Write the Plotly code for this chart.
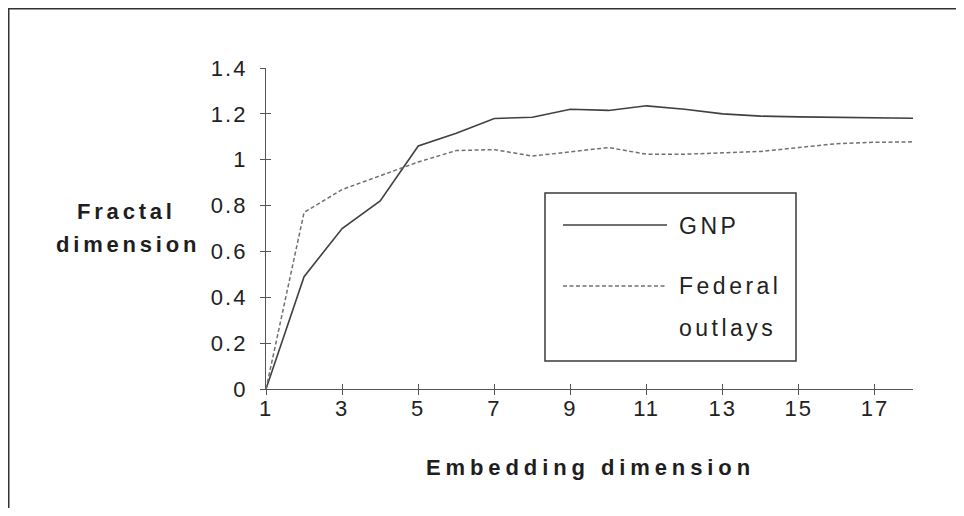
import plotly.graph_objects as go

# ---- data ----
embedding_dim = list(range(1, 19))
gnp = [0.0, 0.49, 0.70, 0.82, 1.06, 1.115, 1.18, 1.185, 1.22, 1.215,
       1.235, 1.22, 1.20, 1.19, 1.187, 1.184, 1.182, 1.181]
federal = [0.0, 0.77, 0.87, 0.93, 0.99, 1.04, 1.044, 1.016, 1.036, 1.053,
           1.024, 1.024, 1.03, 1.036, 1.053, 1.07, 1.076, 1.078]
series_names = ["GNP", "Federal outlays"]
x_tick_vals = [1, 3, 5, 7, 9, 11, 13, 15, 17]
y_tick_vals = [0, 0.2, 0.4, 0.6, 0.8, 1.0, 1.2, 1.4]
y_tick_labels = ["0", "0.2", "0.4", "0.6", "0.8", "1", "1.2", "1.4"]
x_title = "Embedding dimension"
y_title_lines = ["Fractal", "dimension"]

# ---- layout geometry (page coords; page has an 8px body margin) ----
OFF = 8
W, H = 964 - OFF, 516 - 2 * OFF
PLOT_L, PLOT_R, PLOT_T, PLOT_B = 266, 913, 68, 389   # page pixels
L, T = PLOT_L - OFF, PLOT_T - OFF
R, B = W - (PLOT_R - OFF), H - (PLOT_B - OFF)
PW, PH = W - L - R, H - T - B
FONT = "Liberation Sans, Arial, Helvetica, sans-serif"


def px(x):
    return (x - OFF - L) / PW


def py(y):
    return (T + PH - (y - OFF)) / PH


def spaced(t, sp):
    return f'<span style="letter-spacing:{sp}px">{t}</span>'


GNP_COLOR = "#404040"
FED_COLOR = "#707070"
FED_DASH = "4px,2.5px"

fig = go.Figure()
fig.add_trace(go.Scatter(x=embedding_dim, y=gnp, mode="lines", name=series_names[0],
                         line=dict(color=GNP_COLOR, width=1.6)))
fig.add_trace(go.Scatter(x=embedding_dim, y=federal, mode="lines", name=series_names[1],
                         line=dict(color=FED_COLOR, width=1.5, dash=FED_DASH)))
# invisible trace for the overlay axes that draw the inner half of the ticks
fig.add_trace(go.Scatter(x=[None], y=[None], xaxis="x2", yaxis="y2",
                         showlegend=False, hoverinfo="skip"))

axis_common = dict(showgrid=False, zeroline=False, ticklen=5, tickwidth=1.2,
                   tickcolor="#555555")
tick_font = dict(size=22, family=FONT, color="#222222")

fig.update_layout(
    width=W, height=H,
    margin=dict(l=L, r=R, t=T, b=B, pad=0),
    paper_bgcolor="white", plot_bgcolor="white",
    showlegend=False,
    font=dict(family=FONT, color="#222222"),
    xaxis=dict(range=[1, 18], tickvals=x_tick_vals,
               ticktext=[spaced(str(v), 2) for v in x_tick_vals],
               ticks="outside", showline=True, linecolor="#555555", linewidth=1.3,
               tickfont=tick_font, ticklabelstandoff=-6,
               **axis_common),
    yaxis=dict(range=[0, 1.4], tickvals=y_tick_vals,
               ticktext=[spaced(t, 2) for t in y_tick_labels],
               ticks="outside", showline=True, linecolor="#555555", linewidth=1.3,
               tickfont=tick_font, ticklabelstandoff=8,
               **axis_common),
    xaxis2=dict(range=[1, 18], overlaying="x", anchor="y2", side="bottom",
                tickvals=x_tick_vals, ticks="inside", showticklabels=False,
                showline=False, **axis_common),
    yaxis2=dict(range=[0, 1.4], overlaying="y", anchor="x2", side="left",
                tickvals=y_tick_vals, ticks="inside", showticklabels=False,
                showline=False, **axis_common),
)

shapes = []
# outer frame (top and left edges visible)
shapes.append(dict(type="rect", xref="paper", yref="paper",
                   x0=px(8.5), x1=px(1000), y0=py(8.5), y1=py(600),
                   line=dict(color="#333333", width=2), fillcolor="rgba(0,0,0,0)",
                   layer="below"))
# legend box
shapes.append(dict(type="rect", xref="paper", yref="paper",
                   x0=px(545), x1=px(796), y0=py(193), y1=py(361),
                   line=dict(color="#3a3a3a", width=1.5), fillcolor="white",
                   layer="above"))
# legend samples
shapes.append(dict(type="line", xref="paper", yref="paper",
                   x0=px(563), x1=px(667), y0=py(225), y1=py(225),
                   line=dict(color=GNP_COLOR, width=1.6)))
shapes.append(dict(type="line", xref="paper", yref="paper",
                   x0=px(563), x1=px(667), y0=py(286), y1=py(286),
                   line=dict(color=FED_COLOR, width=1.5, dash=FED_DASH)))

annotations = []
fed_words = series_names[1].split(" ")
legend_texts = [(series_names[0], 226), (fed_words[0], 286), (fed_words[1], 328)]
for txt, yy in legend_texts:
    annotations.append(dict(text=spaced(txt, 3.5), xref="paper", yref="paper",
                            x=px(677), y=py(yy), xanchor="left", yanchor="middle",
                            showarrow=False,
                            font=dict(size=23, family=FONT, color="#222222")))
# y title (two lines)
for txt, xx, yy in [(y_title_lines[0], 126, 211), (y_title_lines[1], 128, 245)]:
    annotations.append(dict(text="<b>" + spaced(txt, 3.8) + "</b>", xref="paper", yref="paper",
                            x=px(xx), y=py(yy), xanchor="center", yanchor="middle",
                            showarrow=False,
                            font=dict(size=22, family=FONT, color="#1e1e1e")))
# x title
annotations.append(dict(text="<b>" + spaced(x_title, 4.9) + "</b>", xref="paper", yref="paper",
                        x=px(590), y=py(467), xanchor="center", yanchor="middle",
                        showarrow=False,
                        font=dict(size=22, family=FONT, color="#1e1e1e")))

fig.update_layout(shapes=shapes, annotations=annotations)
fig.write_html("out.html")
